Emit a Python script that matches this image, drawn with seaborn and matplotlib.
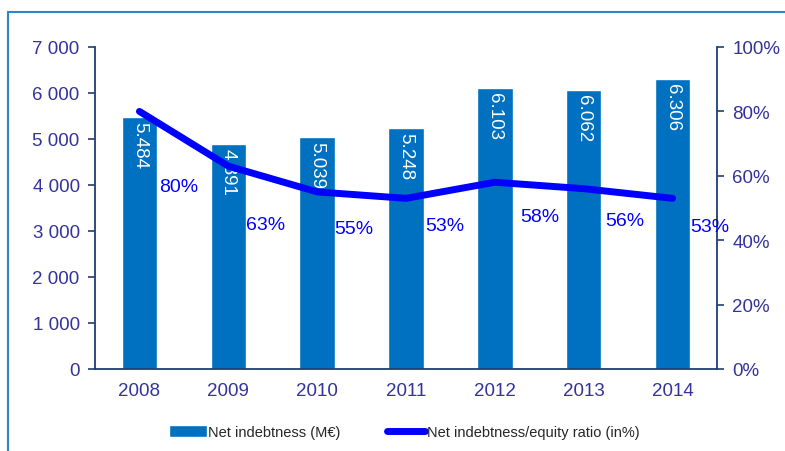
import numpy as np
import pandas as pd
import matplotlib
matplotlib.use('Agg')
import matplotlib.pyplot as plt
from matplotlib.patches import Rectangle
from matplotlib.ticker import FuncFormatter
import seaborn as sns

# Dữ liệu
years = ['2008', '2009', '2010', '2011', '2012', '2013', '2014']
net_debt = [5484, 4891, 5039, 5248, 6103, 6062, 6306]
debt_ratio = [80, 63, 55, 53, 58, 56, 53]

# vị trí nhãn % (offset pixel so với điểm)
pct_dx = [39, 37, 37, 39, 45, 41, 37]
pct_dy = [-75, -58, -37, -27, -34, -32, -28]

bar_color = '#0070C0'
line_color = '#0000FF'
tick_color = '#333399'
spine_color = '#1F3F6F'

sns.set_theme(style='white')
plt.rcParams['font.family'] = ['Liberation Sans', 'DejaVu Sans']

df = pd.DataFrame({'year': years, 'debt': net_debt, 'ratio': debt_ratio,
                   'pos': np.arange(len(years))})

fig = plt.figure(figsize=(7.85, 4.52), dpi=100)
ax = fig.add_axes([95 / 785, 1 - 370 / 452, (717 - 95) / 785, (370 - 48) / 452])

sns.barplot(data=df, x='year', y='debt', color=bar_color, saturation=1,
            width=0.4, ax=ax, label='Net indebtness (M€)')
if ax.get_legend() is not None:
    ax.get_legend().remove()
ax.set_xlim(-0.5, 6.5)
ax.set_ylim(0, 7000)
ax.set_yticks(range(0, 7001, 1000))
ax.yaxis.set_major_formatter(FuncFormatter(lambda v, p: f'{int(v):,}'.replace(',', ' ')))
ax.set_xlabel('')
ax.set_ylabel('')

for i, v in enumerate(net_debt):
    ax.text(i, v - 90, f'{v:,}'.replace(',', '.'), rotation=270, ha='center', va='top',
            color='white', fontsize=13.5)

ax2 = ax.twinx()
sns.lineplot(data=df, x='pos', y='ratio', color=line_color, linewidth=5, ax=ax2,
             solid_capstyle='round', label='Net indebtness/equity ratio (in%)', legend=False)
ax2.set_ylim(0, 100)
ax2.set_yticks(range(0, 101, 20))
ax2.yaxis.set_major_formatter(FuncFormatter(lambda v, p: f'{int(v)}%'))
ax2.set_ylabel('')
ax2.set_xlim(-0.5, 6.5)

for i, v in enumerate(debt_ratio):
    ax2.annotate(f'{v}%', (i, v), xytext=(pct_dx[i], pct_dy[i]), textcoords='offset pixels',
                 ha='center', va='center', color=line_color, fontsize=14)

for a in (ax, ax2):
    for s in a.spines.values():
        s.set_visible(False)
    a.grid(False)
ax.spines['left'].set_visible(True)
ax.spines['bottom'].set_visible(True)
ax2.spines['right'].set_visible(True)
for s in (ax.spines['left'], ax.spines['bottom'], ax2.spines['right']):
    s.set_color(spine_color)
    s.set_linewidth(1.3)

ax.tick_params(axis='y', which='major', direction='out', length=5, width=1.2,
               color=spine_color, labelcolor=tick_color, labelsize=13.5, pad=6, left=True)
ax.tick_params(axis='x', length=0, labelcolor=tick_color, labelsize=13.5, pad=9)
ax2.tick_params(axis='y', direction='out', length=5, width=1.2, color=spine_color,
                labelcolor=tick_color, labelsize=13.5, pad=6, right=True)

# khung viền
fig.patches.append(Rectangle((8 / 785, -0.1), 1.0, (452 - 13) / 452 + 0.1,
                             transform=fig.transFigure, fill=False,
                             edgecolor='#2E86C8', linewidth=1.5))

h1, l1 = ax.get_legend_handles_labels()
h2, l2 = ax2.get_legend_handles_labels()
fig.legend(h1 + h2, l1 + l2, loc='center', bbox_to_anchor=(0.515, 1 - 433 / 452), ncol=2,
           frameon=False, fontsize=10.5, handlelength=2.6, handletextpad=0.1,
           columnspacing=3.2, handleheight=0.8)

fig.savefig('out.png', dpi=100)
